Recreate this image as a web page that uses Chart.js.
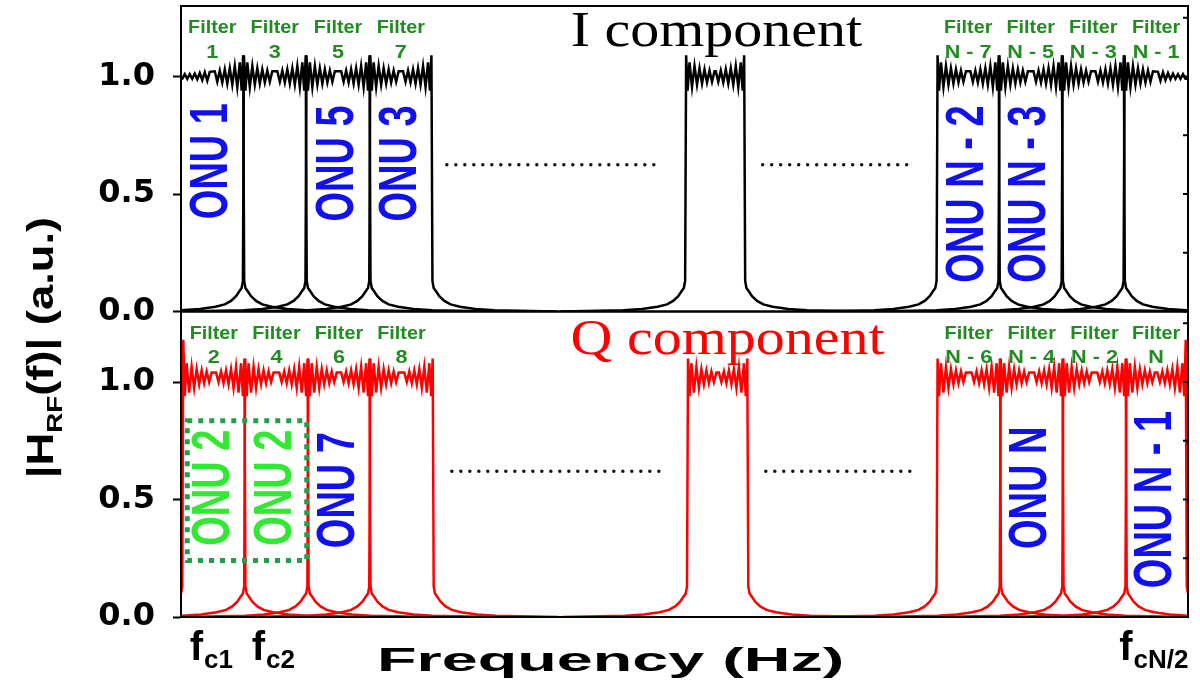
<!DOCTYPE html>
<html>
<head>
<meta charset="utf-8">
<script src="https://cdn.jsdelivr.net/npm/chart.js@4.4.0/dist/chart.umd.min.js"></script>
<style>
  html, body { margin: 0; background: #fff; }
  #wrap { position: relative; width: 1200px; height: 687px; }
</style>
</head>
<body>
<div id="wrap"><canvas id="chart"></canvas></div>
<script>
// frequency axis is in units of one filter bandwidth
const xMin = 0, xMax = 16.1;
const yMin = 0, yMax = 1.3;
const yTickValues = [0, 0.25, 0.5, 0.75, 1.0, 1.25];
const yTickLabels = ['0.0', '', '0.5', '', '1.0', ''];

// I component (upper panel): passband edges of each filter
const iBandStart = [-1.0, 1.0, 2.0, 3.02, 8.07, 12.09, 13.08, 14.09, 15.08];
const iBandEnd   = [1.0, 2.0, 3.02, 4.01, 9.01, 13.08, 14.09, 15.08, 17.1];
const iFilterNames = ['1', '3', '5', '7', '', 'N - 7', 'N - 5', 'N - 3', 'N - 1'];

// Q component (lower panel)
const qBandStart = [0.03, 1.02, 2.03, 3.02, 8.1, 12.09, 13.1, 14.1, 15.11];
const qBandEnd   = [1.02, 2.03, 3.02, 4.03, 9.06, 13.1, 14.1, 15.11, 16.07];
const qFilterNames = ['2', '4', '6', '8', '', 'N - 6', 'N - 4', 'N - 2', 'N'];
const qPeakLeft  = [1.18, 1.1, 1.1, 1.1, 1.1, 1.1, 1.1, 1.1, 1.1];
const qPeakRight = [1.1, 1.1, 1.1, 1.1, 1.1, 1.1, 1.1, 1.1, 1.18];

// response of one filter: ripple inside the band, by distance from the edge
const rippleOffset = [0.006, 0.03, 0.06, 0.10, 0.14, 0.18, 0.22, 0.26, 0.30, 0.34, 0.38, 0.42, 0.46,
                      0.54, 0.58, 0.62, 0.66, 0.70, 0.74, 0.78, 0.82, 0.86, 0.90, 0.94, 0.98];
const iRipple = [1.09, 0.94, 1.06, 0.955, 1.045, 0.965, 1.035, 0.97, 1.03, 0.975, 1.025, 0.978, 1.022,
                 1.02, 0.982, 1.018, 0.985, 1.015, 0.988, 1.012, 0.99, 1.01, 0.99, 1.01, 0.99];
const qRipple = [1.10, 0.94, 1.08, 0.955, 1.065, 0.975, 1.055, 0.99, 1.05, 0.995, 1.045, 1.0, 1.04,
                 1.035, 1.005, 1.03, 1.005, 1.03, 1.005, 1.03, 1.01, 1.025, 1.01, 1.025, 1.01];
// skirt outside the band, by distance from the edge
const skirtOffset = [2.0, 1.0, 0.7, 0.45, 0.3, 0.2, 0.12, 0.07, 0.03, 0.01];
const skirtLevel  = [0.0, 0.005, 0.011, 0.02, 0.03, 0.045, 0.065, 0.085, 0.1, 0.13];

function filterCurve(start, end, ripple, peakL, peakR) {
  const pts = [];
  const half = (end - start) / 2;
  skirtOffset.forEach((d, i) => pts.push({x: start - d, y: skirtLevel[i]}));
  rippleOffset.forEach((d, i) => {
    if (d < half) pts.push({x: start + d, y: i === 0 ? peakL : ripple[i]});
  });
  for (let i = rippleOffset.length - 1; i >= 0; i--) {
    const d = rippleOffset[i];
    if (d < half) pts.push({x: end - d, y: i === 0 ? peakR : ripple[i]});
  }
  for (let i = skirtOffset.length - 1; i >= 0; i--) {
    pts.push({x: end + skirtOffset[i], y: skirtLevel[i]});
  }
  return pts;
}

const datasets = [];
iBandStart.forEach((s, k) => {
  datasets.push({
    data: filterCurve(s, iBandEnd[k], iRipple, iRipple[0], iRipple[0]),
    yAxisID: 'yI', borderColor: '#000000', borderWidth: 2.5, pointRadius: 0, tension: 0
  });
});
qBandStart.forEach((s, k) => {
  datasets.push({
    data: filterCurve(s, qBandEnd[k], qRipple, qPeakLeft[k], qPeakRight[k]),
    yAxisID: 'yQ', borderColor: '#ff0000', borderWidth: 2.5, pointRadius: 0, tension: 0
  });
});

// annotations
const BLUE = '#1010f0', LIME = '#33e833', DKGREEN = '#228b22';
const onuLabels = [
  {axis: 'yI', band: 0, text: 'ONU 1', color: BLUE, y: 0.64},
  {axis: 'yI', band: 2, text: 'ONU 5', color: BLUE, y: 0.63},
  {axis: 'yI', band: 3, text: 'ONU 3', color: BLUE, y: 0.63},
  {axis: 'yI', band: 5, text: 'ONU N - 2', color: BLUE, y: 0.50},
  {axis: 'yI', band: 6, text: 'ONU N - 3', color: BLUE, y: 0.50},
  {axis: 'yQ', band: 0, text: 'ONU 2', color: LIME, y: 0.55},
  {axis: 'yQ', band: 1, text: 'ONU 2', color: LIME, y: 0.55},
  {axis: 'yQ', band: 2, text: 'ONU 7', color: BLUE, y: 0.54},
  {axis: 'yQ', band: 6, text: 'ONU N', color: BLUE, y: 0.55},
  {axis: 'yQ', band: 8, text: 'ONU N - 1', color: BLUE, y: 0.50}
];
const dottedLines = [
  {axis: 'yI', x0: 4.25, x1: 7.68, y: 0.625},
  {axis: 'yI', x0: 9.3, x1: 11.73, y: 0.625},
  {axis: 'yQ', x0: 4.33, x1: 7.78, y: 0.62},
  {axis: 'yQ', x0: 9.35, x1: 11.77, y: 0.62}
];
const greenBox = {axis: 'yQ', x0: 0.1, x1: 2.01, y0: 0.835, y1: 0.24};
const fcLabels = [
  {x: 0.14, sub: 'c1'},
  {x: 1.13, sub: 'c2'},
  {x: 15.0, sub: 'cN/2'}
];

function drawText(ctx, text, px, py, font, color, sx, sy, rot, align, baseline) {
  ctx.save();
  ctx.translate(px, py);
  if (rot) ctx.rotate(rot);
  ctx.scale(sx, sy);
  ctx.font = font;
  ctx.fillStyle = color;
  ctx.textAlign = align || 'center';
  ctx.textBaseline = baseline || 'middle';
  ctx.fillText(text, 0, 0);
  ctx.restore();
}

const decorations = {
  id: 'decorations',
  afterDraw(chart) {
    const {ctx, chartArea, scales} = chart;
    const xs = scales.x;
    const panels = {yI: scales.yI, yQ: scales.yQ};

    ctx.save();
    // panel frames and inner ticks on the right
    ctx.strokeStyle = '#000';
    ctx.lineWidth = 2;
    Object.values(panels).forEach(s => {
      ctx.strokeRect(chartArea.left, s.top, chartArea.right - chartArea.left, s.bottom - s.top);
      yTickValues.forEach(v => {
        const py = s.getPixelForValue(v);
        ctx.beginPath();
        ctx.moveTo(chartArea.right, py);
        ctx.lineTo(chartArea.right - 5, py);
        ctx.stroke();
      });
    });

    // filter names over each band
    const names = [[iFilterNames, iBandStart, iBandEnd, 'yI'], [qFilterNames, qBandStart, qBandEnd, 'yQ']];
    names.forEach(([list, st, en, ax]) => {
      list.forEach((n, k) => {
        if (!n) return;
        const cx = (Math.max(st[k], xMin) + Math.min(en[k], xMax)) / 2;
        const px = xs.getPixelForValue(cx);
        drawText(ctx, 'Filter', px, panels[ax].getPixelForValue(1.205), 'bold 18px "Liberation Sans"', DKGREEN, 1.1, 1);
        drawText(ctx, n, px, panels[ax].getPixelForValue(1.1), 'bold 18px "Liberation Sans"', DKGREEN, 1.2, 1);
      });
    });

    // ONU labels, vertical
    onuLabels.forEach(o => {
      const st = o.axis === 'yI' ? iBandStart : qBandStart;
      const en = o.axis === 'yI' ? iBandEnd : qBandEnd;
      const cx = (Math.max(st[o.band], xMin) + Math.min(en[o.band], xMax)) / 2;
      drawText(ctx, o.text, xs.getPixelForValue(cx), panels[o.axis].getPixelForValue(o.y),
               'bold 38px "Liberation Sans"', o.color, 1, 1.4, -Math.PI / 2);
    });

    // dotted "..." separators
    ctx.strokeStyle = '#111';
    ctx.lineWidth = 3.5;
    ctx.lineCap = 'round';
    ctx.setLineDash([0, 9]);
    dottedLines.forEach(d => {
      const py = panels[d.axis].getPixelForValue(d.y);
      ctx.beginPath();
      ctx.moveTo(xs.getPixelForValue(d.x0), py);
      ctx.lineTo(xs.getPixelForValue(d.x1), py);
      ctx.stroke();
    });

    // green dotted box round the two ONU 2 labels
    ctx.strokeStyle = '#1fa04c';
    ctx.lineWidth = 5;
    ctx.lineCap = 'butt';
    ctx.setLineDash([5, 6]);
    const bx0 = xs.getPixelForValue(greenBox.x0), bx1 = xs.getPixelForValue(greenBox.x1);
    const by0 = panels[greenBox.axis].getPixelForValue(greenBox.y0);
    const by1 = panels[greenBox.axis].getPixelForValue(greenBox.y1);
    ctx.strokeRect(bx0, by0, bx1 - bx0, by1 - by0);
    ctx.setLineDash([]);

    // panel titles
    drawText(ctx, 'I component', xs.getPixelForValue(8.56), panels.yI.getPixelForValue(1.13),
             '50px "Liberation Serif"', '#000', 1.16, 1, 0, 'center', 'alphabetic');
    drawText(ctx, 'Q component', xs.getPixelForValue(8.74), panels.yQ.getPixelForValue(1.12),
             '50px "Liberation Serif"', '#ff0000', 1.16, 1, 0, 'center', 'alphabetic');

    // f_c labels under the axis
    const base = chartArea.bottom + 43;
    fcLabels.forEach(f => {
      const px = xs.getPixelForValue(f.x);
      ctx.font = 'bold 40px "Liberation Sans"';
      const w = ctx.measureText('f').width;
      drawText(ctx, 'f', px, base, 'bold 40px "Liberation Sans"', '#000', 1, 1, 0, 'left', 'alphabetic');
      drawText(ctx, f.sub, px + w + 1, base + 8, 'bold 26px "Liberation Sans"', '#000', 1, 1, 0, 'left', 'alphabetic');
    });

    // x axis title
    drawText(ctx, 'Frequency (Hz)', xs.getPixelForValue(6.87), chartArea.bottom + 54,
             'bold 33px "Liberation Sans"', '#000', 1.96, 1, 0, 'center', 'alphabetic');

    // y axis title with subscript, reading upwards
    ctx.save();
    ctx.translate(40, (panels.yI.top + panels.yQ.bottom) / 2 + 36);
    ctx.rotate(-Math.PI / 2);
    ctx.scale(1.26, 1);
    ctx.fillStyle = '#000';
    ctx.textBaseline = 'alphabetic';
    ctx.textAlign = 'left';
    const parts = [
      {t: '|H', f: 'bold 36px "Liberation Sans"', dy: 0},
      {t: 'RF', f: 'bold 22px "Liberation Sans"', dy: 9},
      {t: '(f)| (a.u.)', f: 'bold 36px "Liberation Sans"', dy: 0}
    ];
    let total = 0;
    parts.forEach(p => { ctx.font = p.f; p.w = ctx.measureText(p.t).width; total += p.w; });
    let cx = -total / 2;
    parts.forEach(p => { ctx.font = p.f; ctx.fillText(p.t, cx, 13 + p.dy); cx += p.w; });
    ctx.restore();

    ctx.restore();
  }
};

function panelAxis() {
  return {
    type: 'linear', position: 'left', stack: 'panels', stackWeight: 1,
    min: yMin, max: yMax,
    afterBuildTicks: s => { s.ticks = yTickValues.map(v => ({value: v})); },
    afterFit: s => { s.width = 181; s.paddingTop = 0; s.paddingBottom = 0; },
    ticks: {
      callback: (v, i) => yTickLabels[i],
      font: {family: 'DejaVu Sans', weight: 'bold', size: 32},
      color: '#000', padding: 18
    },
    grid: {drawOnChartArea: false, drawTicks: true, tickLength: 8, tickWidth: 2, tickColor: '#000'},
    border: {display: true, color: '#000', width: 2}
  };
}

new Chart(document.getElementById('chart'), {
  type: 'line',
  data: {datasets: datasets},
  options: {
    responsive: true,
    maintainAspectRatio: false,
    animation: false,
    layout: {padding: {left: 0, right: 12, top: 6, bottom: 0}},
    plugins: {legend: {display: false}, tooltip: {enabled: false}},
    scales: {
      x: {
        type: 'linear', min: xMin, max: xMax,
        ticks: {display: false},
        grid: {display: false},
        border: {display: false},
        afterFit: s => { s.height = 70; s.paddingLeft = 0; s.paddingRight = 0; }
      },
      yQ: panelAxis(),
      yI: panelAxis()
    }
  },
  plugins: [decorations]
});
</script>
</body>
</html>
